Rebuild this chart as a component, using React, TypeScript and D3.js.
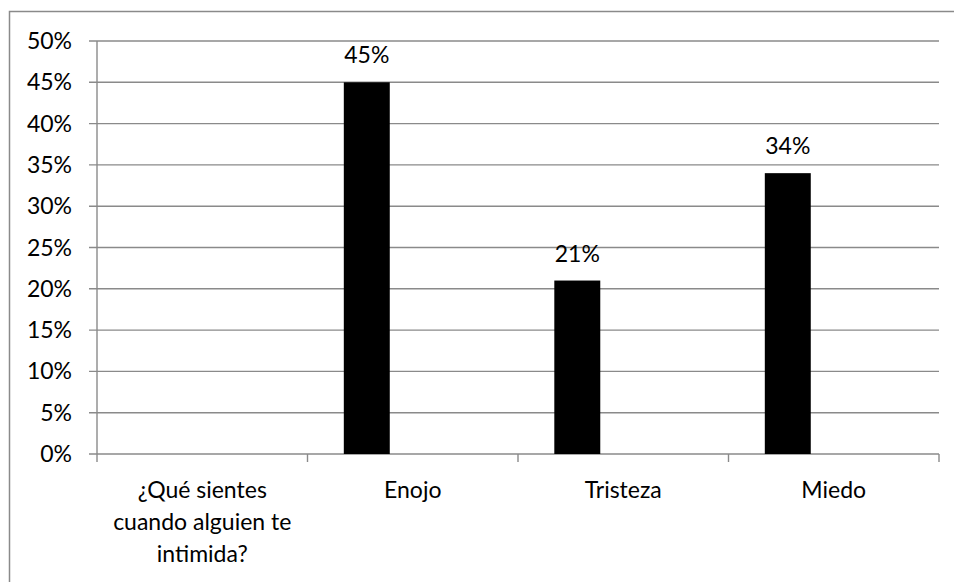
import React from "react";
import * as d3 from "d3";

const categories: string[] = ["¿Qué sientes cuando alguien te intimida?", "Enojo", "Tristeza", "Miedo"];
const categoryLabelLines: string[][] = [["¿Qué sientes", "cuando alguien te", "intimida?"], ["Enojo"], ["Tristeza"], ["Miedo"]];
const seriesSlots: string[] = ["Serie1", "Serie2", "Serie3"];
const serie1Values: (number | null)[] = [null, 45, 21, 34];
const yTicks: number[] = [0, 5, 10, 15, 20, 25, 30, 35, 40, 45, 50];

const W = 954;
const H = 582;
const left = 97;
const right = 939;
const top = 41;
const bottom = 454;
const FONT = "Lato, 'Open Sans', sans-serif";
const FS = 23;
const GRID = "#8a8a8a";

export default function App() {
  const x = d3.scaleBand<string>().domain(categories).range([left, right]).paddingInner(0).paddingOuter(0);
  const bw = x.bandwidth();
  const inner = d3.scaleBand<string>().domain(seriesSlots).range([0, bw]).paddingOuter(0.79).paddingInner(0);
  const y = d3.scaleLinear().domain([0, 50]).range([bottom, top]);
  const catTicks = [...categories.map((c) => x(c) as number), right];

  return (
    <svg width={W} height={H} style={{ position: "absolute", left: 0, top: 0, background: "#fff" }} fontFamily={FONT}>
      <rect x={0} y={0} width={W} height={H} fill="#fff" />
      <rect x={9.5} y={11.5} width={W + 20} height={H + 20} fill="none" stroke={GRID} strokeWidth={1.5} />
      {yTicks.map((t) => (
        <g key={t}>
          <line x1={left - 8} x2={right} y1={y(t)} y2={y(t)} stroke={GRID} strokeWidth={1.4} />
          <text x={72} y={y(t) + 8} textAnchor="end" fontSize={FS} fill="#000">{`${t}%`}</text>
        </g>
      ))}
      <line x1={left} x2={left} y1={top} y2={bottom} stroke={GRID} strokeWidth={1.4} />
      {catTicks.map((cx, i) => (
        <line key={i} x1={cx} x2={cx} y1={bottom} y2={bottom + 8} stroke={GRID} strokeWidth={1.4} />
      ))}
      {categories.map((c, i) => {
        const v = serie1Values[i];
        if (v === null) return null;
        const bx = (x(c) as number) + (inner(seriesSlots[0]) as number);
        const ib = inner.bandwidth();
        return (
          <g key={c}>
            <rect x={bx} y={y(v)} width={ib} height={bottom - y(v)} fill="#000" />
            <text x={bx + ib / 2} y={y(v) - 19} textAnchor="middle" fontSize={FS} fill="#000">{`${v}%`}</text>
          </g>
        );
      })}
      {categories.map((c, i) => (
        <text key={c} textAnchor="middle" fontSize={FS} fill="#000">
          {categoryLabelLines[i].map((ln, j) => (
            <tspan key={j} x={(x(c) as number) + bw / 2} y={498 + j * 32}>{ln}</tspan>
          ))}
        </text>
      ))}
    </svg>
  );
}
